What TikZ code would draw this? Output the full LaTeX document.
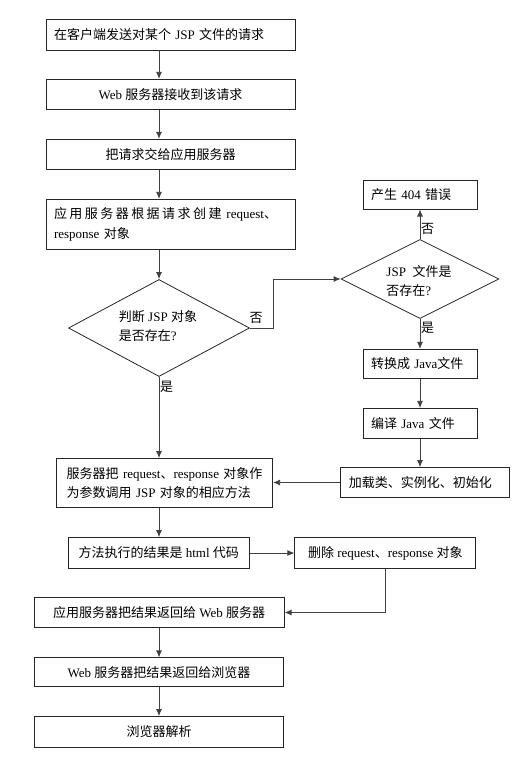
\documentclass[tikz,border=0pt]{standalone}
\usepackage{fontspec}
\setmainfont{Liberation Serif}
\newfontfamily\cjk{Noto Sans CJK SC}
\newcommand{\zh}[1]{{\cjk #1}}
\usetikzlibrary{arrows.meta, shapes.geometric}

\tikzset{
  box/.style={draw=black!85, line width=0.8pt, rectangle, inner sep=0pt, minimum height=30pt},
  lbox/.style={box, align=left, inner xsep=8pt},
  decision/.style={draw=black!85, line width=0.8pt, diamond, inner sep=0pt},
  arr/.style={draw=black!75, line width=0.8pt, -{Latex[length=7pt,width=6pt]}},
  lbl/.style={inner sep=0pt},
}

\begin{document}
\begin{tikzpicture}[x=1pt, y=-1pt, font=\fontsize{13}{19.5}\selectfont]
\useasboundingbox (0,0) rectangle (529,768);
%\draw[step=50,gray,very thin] (0,0) grid (529,768); %background grid
\coordinate (ax) at (159,0);
\coordinate (k1) at (273,0);

% left column
\node[lbox, text width=233pt, minimum height=31pt] (s1) at (170.5,34.5) {\zh{在客户端发送对某个} JSP \zh{文件的请求}};
\node[box, minimum width=249pt] (s2) at (170.5,94.3) {Web \zh{服务器接收到该请求}};
\node[box, minimum width=249pt] (s3) at (170.5,154.2) {\zh{把请求交给应用服务器}};
\node[lbox, text width=233pt, minimum height=50pt] (s4) at (170.5,224.3) {\makebox[223pt][s]{\zh{应\hfill 用\hfill 服\hfill 务\hfill 器\hfill 根\hfill 据\hfill 请\hfill 求\hfill 创\hfill 建}\hfill\hfill request\zh{、}}\\response \zh{对象}};
\node[decision, minimum width=181pt, minimum height=97pt] (d1) at (159,328) {};
\node[lbl, align=left] (d1t) at (158,326) {\zh{判断} JSP \zh{对象}\\\zh{是否存在}?};
\node[lbox, text width=196pt, inner xsep=10pt, minimum height=49pt] (srv) at (164.7,483) {\zh{服务器把} request\zh{、}response \zh{对象作}\\\zh{为参数调用} JSP \zh{对象的相应方法}};
\node[box, minimum width=181pt, minimum height=31pt] (m1) at (158.7,553) {\zh{方法执行的结果是} html \zh{代码}};
\node[box, minimum width=250pt] (r1) at (159.2,612.5) {\zh{应用服务器把结果返回给} Web \zh{服务器}};
\node[box, minimum width=249pt, minimum height=29pt] (r2) at (159,672.3) {Web \zh{服务器把结果返回给浏览器}};
\node[box, minimum width=249pt, minimum height=31pt] (r3) at (159,732) {\zh{浏览器解析}};

% right column
\node[lbox, text width=98pt, minimum height=29pt] (e404) at (420,194.6) {\zh{产生} 404 \zh{错误}};
\node[decision, minimum width=158pt, minimum height=79pt] (d2) at (420,279) {};
\node[lbl, align=left] (d2t) at (419,281) {JSP\ \ \zh{文件是}\\\zh{否存在}?};
\node[lbox, text width=98pt, minimum height=29pt] (j1) at (420,363.7) {\zh{转换成} Java\zh{文件}};
\node[lbox, text width=98pt, minimum height=30pt] (j2) at (420,423.3) {\zh{编译} Java \zh{文件}};
\node[lbox, text width=153pt, minimum height=30pt] (j3) at (425.3,482.5) {\zh{加载类、实例化、初始化}};
\node[box, minimum width=181pt, minimum height=31pt] (del) at (385.3,553) {\zh{删除} request\zh{、}response \zh{对象}};

% connectors
\draw[arr] (s1.south -| ax) -- (s2.north -| ax);
\draw[arr] (s2.south -| ax) -- (s3.north -| ax);
\draw[arr] (s3.south -| ax) -- (s4.north -| ax);
\draw[arr] (s4.south -| ax) -- (d1.north);
\draw[arr] (d1.east) -- (d1.east -| k1) |- (d2.west);
\node[lbl] (n1) at (256,318) {\zh{否}};
\draw[arr] (d2.north) -- (e404.south);
\node[lbl, anchor=west] (n2) at (421,229) {\zh{否}};
\draw[arr] (d2.south) -- (j1.north);
\node[lbl, anchor=west] (y2) at (421,328) {\zh{是}};
\draw[arr] (j1) -- (j2);
\draw[arr] (j2.south) -- (j2.south |- j3.north);
\draw[arr] (j3.west) -- (j3.west -| srv.east);
\draw[arr] (d1.south) -- (d1.south |- srv.north);
\node[lbl, anchor=west] (y1) at (160,387) {\zh{是}};
\draw[arr] (srv.south -| ax) -- (m1.north -| ax);
\draw[arr] (m1.east) -- (del.west);
\draw[arr] (del.south) |- (r1.east);
\draw[arr] (r1.south -| ax) -- (r2.north -| ax);
\draw[arr] (r2.south -| ax) -- (r3.north -| ax);
\end{tikzpicture}
\end{document}
